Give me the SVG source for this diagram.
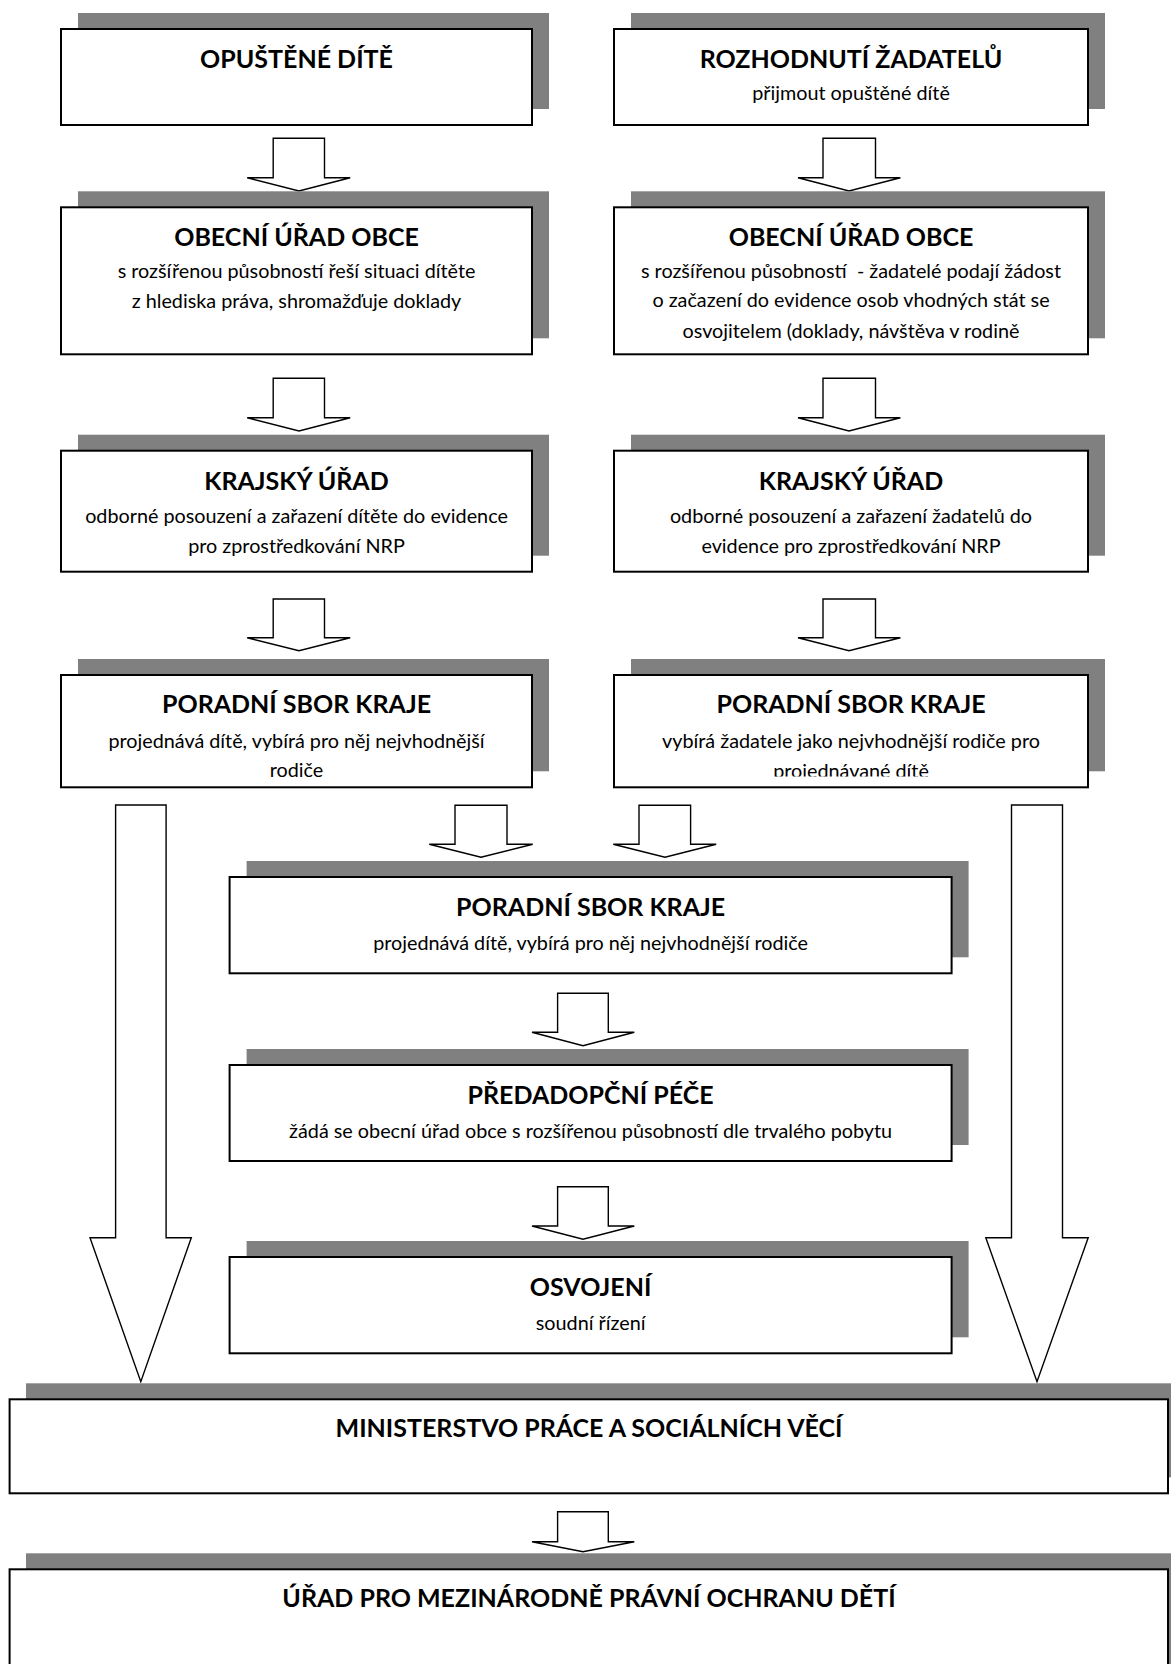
<svg xmlns="http://www.w3.org/2000/svg" width="1171" height="1664" viewBox="0 0 1171 1664">
<style>
.sh{fill:#808080;stroke:none}
.bx{fill:#fff;stroke:#000;stroke-width:2}
.ar{fill:#fff;stroke:#000;stroke-width:1.4;stroke-linejoin:miter}
.t{font-family:Lato,"Open Sans","Liberation Sans",sans-serif;font-weight:bold;font-size:25px;fill:#000;text-anchor:middle}
.s{font-family:Lato,"Open Sans","Liberation Sans",sans-serif;font-size:19.8px;fill:#000;text-anchor:middle}
</style>
<defs>
<clipPath id="clipR4"><rect x="600" y="660" width="500" height="116.5"/></clipPath>
</defs>
<rect width="1171" height="1664" fill="#fff"/>

<g id="connectors">
<polygon class="ar" points="273.2,138.3 324.5,138.3 324.5,177.7 350.2,177.7 299,191 247.2,177.7 273.2,177.7"/>
<polygon class="ar" points="273.2,378.3 324.5,378.3 324.5,417.7 350.2,417.7 299,431 247.2,417.7 273.2,417.7"/>
<polygon class="ar" points="273.2,599 324.5,599 324.5,637.7 350.2,637.7 299,650.7 247.2,637.7 273.2,637.7"/>
<polygon class="ar" points="823,138.3 875.5,138.3 875.5,177.7 900.4,177.7 849,191 798,177.7 823,177.7"/>
<polygon class="ar" points="823,378.3 875.5,378.3 875.5,417.7 900.4,417.7 849,431 798,417.7 823,417.7"/>
<polygon class="ar" points="823,599 875.5,599 875.5,637.7 900.4,637.7 849,650.7 798,637.7 823,637.7"/>
<polygon class="ar" points="455,805.3 507,805.3 507,844.3 532.7,844.3 481,857.3 429.3,844.3 455,844.3"/>
<polygon class="ar" points="639,805.3 690.6,805.3 690.6,844.3 716.2,844.3 665,857.3 613.3,844.3 639,844.3"/>
<polygon class="ar" points="557.6,993.3 608.3,993.3 608.3,1032.3 634.3,1032.3 583,1045.7 532,1032.3 557.6,1032.3"/>
<polygon class="ar" points="557.6,1186.7 608.3,1186.7 608.3,1226 634.3,1226 583,1239.3 532,1226 557.6,1226"/>
<polygon class="ar" points="557.6,1511.7 608.3,1511.7 608.3,1541.7 634.3,1541.7 583,1551.7 532,1541.7 557.6,1541.7"/>
<polygon class="ar" points="115.6,805 166.1,805 166.1,1237.7 191.3,1237.7 140.8,1381.7 90,1237.7 115.6,1237.7"/>
<polygon class="ar" points="1011.5,805 1062.5,805 1062.5,1237.7 1088.2,1237.7 1037,1381.7 985.8,1237.7 1011.5,1237.7"/>
</g>

<g id="n-opustene">
<rect class="sh" x="78" y="13" width="471" height="96"/>
<rect class="bx" x="61" y="29" width="471" height="96"/>
<text class="t" x="296.5" y="67.7">OPUŠTĚNÉ DÍTĚ</text>
</g>
<g id="n-rozhodnuti">
<rect class="sh" x="631" y="13" width="474" height="96"/>
<rect class="bx" x="614" y="29" width="474" height="96"/>
<text class="t" x="851" y="67.7">ROZHODNUTÍ ŽADATELŮ</text>
<text class="s" x="851" y="100">přijmout opuštěné dítě</text>
</g>

<g id="n-obecni-l">
<rect class="sh" x="78" y="191.3" width="471" height="147"/>
<rect class="bx" x="61" y="207.3" width="471" height="147"/>
<text class="t" x="296.5" y="245.7">OBECNÍ ÚŘAD OBCE</text>
<text class="s" x="296.5" y="278.3">s rozšířenou působností řeší situaci dítěte</text>
<text class="s" x="296.5" y="308.3">z hlediska práva, shromažďuje doklady</text>
</g>
<g id="n-obecni-r">
<rect class="sh" x="631" y="191.3" width="474" height="147"/>
<rect class="bx" x="614" y="207.3" width="474" height="147"/>
<text class="t" x="851" y="245.7">OBECNÍ ÚŘAD OBCE</text>
<text class="s" x="851" y="278.3" xml:space="preserve">s rozšířenou působností  - žadatelé podají žádost</text>
<text class="s" x="851" y="307.3">o začazení do evidence osob vhodných stát se</text>
<text class="s" x="851" y="337.7">osvojitelem (doklady, návštěva v rodině</text>
</g>

<g id="n-krajsky-l">
<rect class="sh" x="78" y="434.7" width="471" height="121"/>
<rect class="bx" x="61" y="450.7" width="471" height="121"/>
<text class="t" x="296.5" y="490">KRAJSKÝ ÚŘAD</text>
<text class="s" x="296.5" y="523.3">odborné posouzení a zařazení dítěte do evidence</text>
<text class="s" x="296.5" y="552.7">pro zprostředkování NRP</text>
</g>
<g id="n-krajsky-r">
<rect class="sh" x="631" y="434.7" width="474" height="121"/>
<rect class="bx" x="614" y="450.7" width="474" height="121"/>
<text class="t" x="851" y="490">KRAJSKÝ ÚŘAD</text>
<text class="s" x="851" y="523.3">odborné posouzení a zařazení žadatelů do</text>
<text class="s" x="851" y="552.7">evidence pro zprostředkování NRP</text>
</g>

<g id="n-poradni-l">
<rect class="sh" x="78" y="659" width="471" height="112.3"/>
<rect class="bx" x="61" y="675" width="471" height="112.3"/>
<text class="t" x="296.5" y="713.3">PORADNÍ SBOR KRAJE</text>
<text class="s" x="296.5" y="748.3">projednává dítě, vybírá pro něj nejvhodnější</text>
<text class="s" x="296.5" y="776.7">rodiče</text>
</g>
<g id="n-poradni-r">
<rect class="sh" x="631" y="659" width="474" height="112.3"/>
<rect class="bx" x="614" y="675" width="474" height="112.3"/>
<text class="t" x="851" y="713.3">PORADNÍ SBOR KRAJE</text>
<text class="s" x="851" y="748.3">vybírá žadatele jako nejvhodnější rodiče pro</text>
<text class="s" x="851" y="778" clip-path="url(#clipR4)">projednávané dítě</text>
</g>

<g id="n-poradni-c">
<rect class="sh" x="246.6" y="861" width="722" height="96.3"/>
<rect class="bx" x="229.6" y="877" width="722" height="96.3"/>
<text class="t" x="590.6" y="916">PORADNÍ SBOR KRAJE</text>
<text class="s" x="590.6" y="950">projednává dítě, vybírá pro něj nejvhodnější rodiče</text>
</g>
<g id="n-predadopcni">
<rect class="sh" x="246.6" y="1049" width="722" height="96"/>
<rect class="bx" x="229.6" y="1065" width="722" height="96"/>
<text class="t" x="590.6" y="1104">PŘEDADOPČNÍ PÉČE</text>
<text class="s" x="590.6" y="1137.7">žádá se obecní úřad obce s rozšířenou působností dle trvalého pobytu</text>
</g>
<g id="n-osvojeni">
<rect class="sh" x="246.6" y="1241" width="722" height="96.3"/>
<rect class="bx" x="229.6" y="1257" width="722" height="96.3"/>
<text class="t" x="590.6" y="1295.7">OSVOJENÍ</text>
<text class="s" x="590.6" y="1330">soudní řízení</text>
</g>

<g id="n-mpsv">
<rect class="sh" x="26" y="1383.3" width="1160" height="94"/>
<rect class="bx" x="9.6" y="1399.3" width="1158.4" height="94"/>
<text class="t" x="589" y="1437.3">MINISTERSTVO PRÁCE A SOCIÁLNÍCH VĚCÍ</text>
</g>
<g id="n-umpod">
<rect class="sh" x="26" y="1553.3" width="1160" height="140"/>
<rect class="bx" x="9.6" y="1569.3" width="1158.4" height="140"/>
<text class="t" x="589" y="1607.3">ÚŘAD PRO MEZINÁRODNĚ PRÁVNÍ OCHRANU DĚTÍ</text>
</g>
</svg>
